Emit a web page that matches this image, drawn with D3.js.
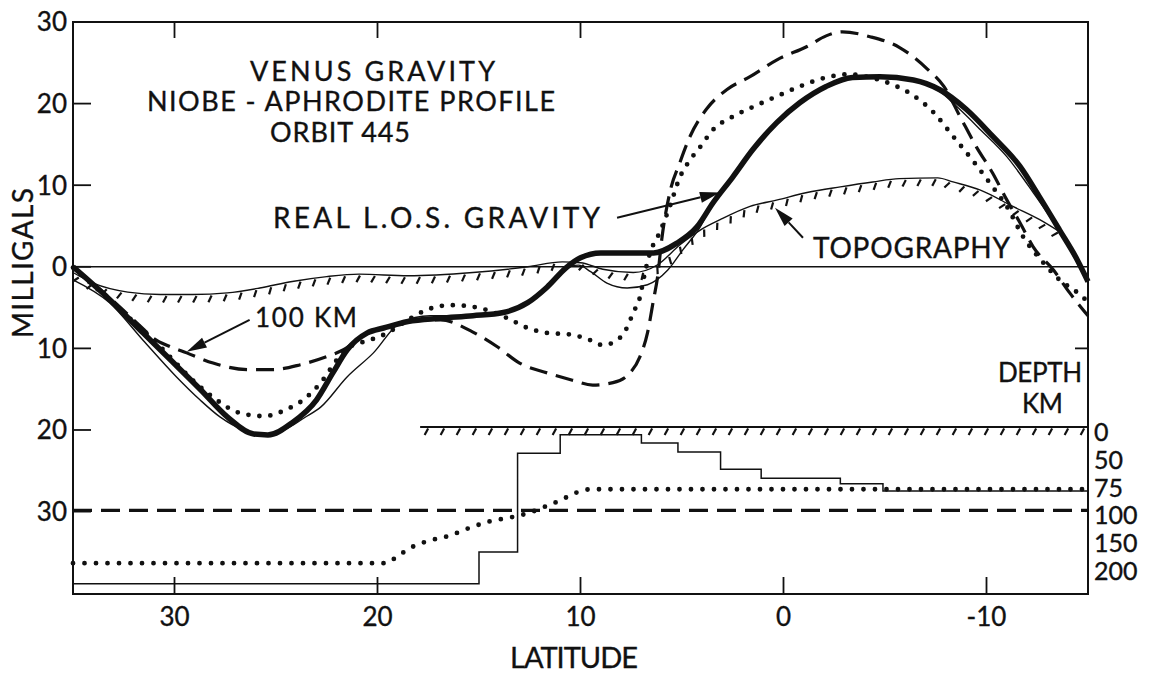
<!DOCTYPE html>
<html>
<head>
<meta charset="utf-8">
<script src="https://cdn.jsdelivr.net/npm/d3@7"></script>
<style>
body { margin: 0; background: #fff; }
text { font-family: Lato, "DejaVu Sans", sans-serif; fill: #111; stroke: #111; stroke-width: 0.35px; }
</style>
</head>
<body>
<div id="viz"></div>
<script>
// tick values
var latTicks = [30, 20, 10, 0, -10];
var mgalTicks = [30, 20, 10, 0, -10, -20, -30];
var rightTicks = [20, 10, -10];
var depthTicks = [0, 50, 75, 100, 150, 200];

// gravity profiles, [latitude, milligals]
var observed = [[35,0],[33.2,-4.0],[31.55,-8.1],[30.2,-11.4],[28.7,-15.1],[27.4,-18.4],[26.1,-20.5],[25.4,-20.6],[24.2,-19.1],[23.0,-16.3],[22.2,-13.0],[21.5,-10.2],[20.5,-8.1],[19.7,-7.5],[18.5,-6.7],[16.9,-6.3],[15.3,-6.0],[13.8,-5.6],[12.6,-4.4],[11.65,-2.5],[10.7,-0.1],[10.0,1.1],[9.0,1.7],[7.7,1.7],[6.4,1.7],[5.25,2.9],[4.26,4.9],[3.47,7.85],[2.5,11.0],[1.5,14.4],[0.32,17.7],[-0.8,20.1],[-2.1,22.1],[-3.4,23.2],[-4.75,23.3],[-6.4,22.9],[-7.7,21.7],[-9.0,19.3],[-10.3,16.0],[-11.65,12.3],[-12.6,8.6],[-13.6,4.5],[-14.46,0.9],[-15,-1.8]];
var model = [[35,-1.6],[33.2,-4.4],[31.55,-9.0],[29.9,-13.5],[28.75,-16.3],[27.76,-18.4],[26.6,-20.0],[25.6,-20.5],[24.6,-20.0],[23.6,-18.5],[22.8,-17.2],[21.5,-13.5],[20.2,-10.55],[18.9,-6.9],[17.4,-6.0],[15.3,-6.0],[13.8,-5.6],[12.6,-4.4],[11.65,-2.5],[10.8,-0.3],[10.1,0.2],[9.5,-0.6],[8.7,-2.0],[7.7,-2.6],[6.7,-2.2],[5.7,-0.4],[4.95,2.1],[4.1,4.9],[3.47,7.85],[2.5,11.0],[1.5,14.4],[0.32,17.7],[-0.8,20.1],[-2.1,22.1],[-3.4,23.2],[-4.75,23.3],[-6.4,22.9],[-7.7,21.5],[-8.55,19.6],[-9.7,16.8],[-11.0,13.5],[-12.3,9.1],[-13.6,4.3],[-15,-2.0]];
var topography = [[35,-0.7],[34.0,-2.0],[32.3,-3.1],[30.7,-3.4],[29.1,-3.4],[27.4,-3.2],[25.8,-2.6],[24.2,-1.8],[22.5,-1.2],[20.9,-0.9],[18.5,-1.1],[15.3,-0.7],[12.6,0],[10.9,0.6],[10.0,0.5],[8.9,-0.3],[7.4,-0.7],[6.2,0.25],[5.1,2.7],[4.1,4.5],[3.1,5.8],[1.65,7.4],[0.3,8.2],[-1.16,9.1],[-2.8,9.8],[-4.4,10.4],[-5.7,10.8],[-7.6,10.9],[-8.35,10.4],[-9.7,9.4],[-11.3,7.4],[-12.6,5.8],[-13.6,4.3]];
var comp100 = [[35,0],[33.2,-3.8],[31.5,-7.7],[31.06,-8.7],[30.2,-9.8],[29.4,-10.55],[28.1,-11.8],[26.4,-12.6],[25.15,-12.6],[23.8,-12.0],[22.5,-11.0],[21.7,-10.2],[20.5,-8.1],[19.7,-7.5],[18.5,-6.7],[16.9,-6.5],[15.3,-8.0],[14.1,-9.8],[13.0,-11.8],[11.65,-13.0],[10.4,-13.9],[9.4,-14.5],[8.4,-14.2],[7.56,-13.0],[7.07,-11.0],[6.7,-8.1],[6.4,-4.0],[6.2,-1.2],[6.0,3.3],[5.6,9.1],[5.1,12.8],[4.6,16.0],[3.8,19.3],[2.8,21.7],[1.65,23.3],[0.3,25.4],[-1.16,27.0],[-2.1,28.3],[-2.9,28.8],[-4.26,28.2],[-5.7,26.9],[-7.1,24.2],[-7.9,22.1],[-8.7,18.4],[-9.5,14.7],[-10.3,11.5],[-11.0,8.2],[-11.65,5.4],[-12.3,2.45],[-13.3,-0.4],[-14.1,-3.2],[-15,-6.0]];
var compVar = [[35,-0.1],[32.3,-6.1],[30.7,-9.8],[29.1,-13.9],[28.1,-16.0],[26.8,-17.9],[25.6,-18.3],[24.5,-17.5],[23.5,-16.0],[22.7,-13.9],[22.0,-11.4],[21.35,-9.8],[20.4,-9.0],[19.5,-8.1],[18.5,-6.5],[17.6,-5.3],[16.4,-4.7],[15.3,-4.9],[14.6,-5.3],[13.6,-6.3],[12.6,-7.5],[11.65,-8.1],[10.5,-8.3],[9.5,-9.0],[8.9,-9.6],[8.2,-9.0],[7.7,-7.4],[7.4,-5.6],[7.07,-3.7],[6.9,-1.6],[6.6,1.5],[6.1,4.2],[5.6,7.4],[5.1,11.0],[4.6,13.1],[4.1,14.7],[3.47,16.8],[2.5,18.4],[1.5,19.6],[0.32,20.9],[-0.8,22.1],[-2.1,23.2],[-3.3,23.6],[-4.1,23.3],[-5.4,22.3],[-6.2,21.3],[-7.4,18.9],[-8.35,16.0],[-9.3,13.1],[-10.3,9.8],[-11.0,7.4],[-11.8,3.7],[-12.8,0.5],[-13.6,-1.6],[-14.5,-3.2],[-15,-4.3]];

// compensation depth models, [latitude, km]
var depthSteps = [[35,232],[15.0,175],[13.1,47],[11.0,14],[7.0,29],[5.2,45],[3.1,63],[1.1,71],[-2.8,76],[-4.9,82.5],[-15,82.5]];
var depthVar = [[35,195],[19.6,195],[19.0,182],[18.3,166],[17.5,155],[16.5,146],[15.5,132],[14.5,120],[13.5,113],[12.5,104],[11.8,97],[11.0,91],[10.2,84],[9.5,81],[-15,81]];
var depth100 = [[35,100],[-15,100]];
var depthTopo = [[17.9,0],[-15,0]];

var W = 1152, H = 675;
var svg = d3.select("#viz").append("svg").attr("width", W).attr("height", H);

var x = d3.scaleLinear().domain([35, -15]).range([73, 1088]);
var y = d3.scaleLinear().domain([-40.1, 30]).range([594, 22]);
var depth = d3.scaleLinear().domain(depthTicks)
    .range(depthTicks.map(function(d, i) { return 427 + i * 27.8; }));

var smooth = d3.line().x(function(d) { return x(d[0]); }).y(function(d) { return y(d[1]); })
    .curve(d3.curveMonotoneX);
var dline = d3.line().x(function(d) { return x(d[0]); }).y(function(d) { return depth(d[1]); });

// frame + zero line
svg.append("rect").attr("x", 73).attr("y", 22).attr("width", 1015).attr("height", 572)
    .style("fill", "none").style("stroke", "#111").style("stroke-width", 2);
svg.append("line").attr("x1", x(35)).attr("x2", x(-15)).attr("y1", y(0)).attr("y2", y(0))
    .style("stroke", "#111").style("stroke-width", 1.5);

// ticks
var ticks = svg.append("g").style("stroke", "#111").style("stroke-width", 1.8);
latTicks.forEach(function(t) {
    ticks.append("line").attr("x1", x(t)).attr("x2", x(t)).attr("y1", 22).attr("y2", 38);
    ticks.append("line").attr("x1", x(t)).attr("x2", x(t)).attr("y1", 594).attr("y2", 577);
});
mgalTicks.forEach(function(t) {
    if (t == 30) return;
    ticks.append("line").attr("x1", 73).attr("x2", 91).attr("y1", y(t)).attr("y2", y(t));
});
rightTicks.forEach(function(t) {
    ticks.append("line").attr("x1", 1088).attr("x2", 1075).attr("y1", y(t)).attr("y2", y(t));
});

// labels
svg.selectAll(".ylab").data(mgalTicks).enter().append("text")
    .attr("x", 67).attr("y", function(d) { return y(d); }).attr("dy", "0.36em")
    .attr("text-anchor", "end").style("font-size", "26px")
    .text(function(d) { return Math.abs(d); });
svg.selectAll(".xlab").data(latTicks).enter().append("text")
    .attr("x", function(d) { return x(d); }).attr("y", 626)
    .attr("text-anchor", "middle").style("font-size", "26px")
    .text(function(d) { return d; });
svg.selectAll(".dlab").data(depthTicks).enter().append("text")
    .attr("x", 1094).attr("y", function(d) { return depth(d) + 5; }).attr("dy", "0.36em")
    .style("font-size", "25px")
    .text(function(d) { return d; });

function label(txt, px, py, size, anchor) {
    return svg.append("text").attr("x", px).attr("y", py).attr("text-anchor", anchor || "start")
        .style("font-size", size + "px").text(txt);
}
label("VENUS GRAVITY", 250, 81, 27).attr("textLength", 245);
label("NIOBE - APHRODITE PROFILE", 147, 111, 27).attr("textLength", 408);
label("ORBIT 445", 270, 142, 27).attr("textLength", 140);
label("REAL L.O.S. GRAVITY", 273, 228, 28).attr("textLength", 327);
label("TOPOGRAPHY", 813, 258, 28).attr("textLength", 197);
label("100 KM", 255, 327, 26).attr("textLength", 102);
label("DEPTH", 998, 382, 26).attr("textLength", 84);
label("KM", 1022, 413, 26).attr("textLength", 41);
label("LATITUDE", 510, 668, 29).attr("textLength", 128);
svg.append("text").attr("transform", "translate(33,263) rotate(-90)")
    .attr("text-anchor", "middle").style("font-size", "28px")
    .attr("textLength", 150).attr("x", 0).attr("y", 0).text("MILLIGALS");

// hatched lines
function hatched(path, spacing) {
    var node = path.node(), L = node.getTotalLength();
    var g = svg.append("g").style("stroke", "#111").style("stroke-width", 2.2);
    for (var s = spacing / 2; s < L; s += spacing) {
        var p = node.getPointAtLength(s), q = node.getPointAtLength(Math.min(L, s + 1));
        var dx = q.x - p.x, dy = q.y - p.y, n = Math.sqrt(dx * dx + dy * dy) || 1;
        dx /= n; dy /= n;
        var nx = -dy, ny = dx;
        g.append("line")
            .attr("x1", p.x + nx * 1.5).attr("y1", p.y + ny * 1.5)
            .attr("x2", p.x + nx * 8 - dx * 3.5).attr("y2", p.y + ny * 8 - dy * 3.5);
    }
}

var topo = svg.append("path").attr("d", smooth(topography))
    .style("fill", "none").style("stroke", "#111").style("stroke-width", 1.4);
hatched(topo, 15);

var dtop = svg.append("path").attr("d", dline(depthTopo))
    .style("fill", "none").style("stroke", "#111").style("stroke-width", 2.2);
hatched(dtop, 16);

// lower panel
svg.append("path").attr("d", d3.line().x(function(d) { return x(d[0]); })
        .y(function(d) { return depth(d[1]); }).curve(d3.curveStepAfter)(depthSteps))
    .style("fill", "none").style("stroke", "#111").style("stroke-width", 1.5);
svg.append("path").attr("d", dline(depth100))
    .style("fill", "none").style("stroke", "#111").style("stroke-width", 3.2)
    .style("stroke-dasharray", "19,9");
svg.append("path").attr("d", dline.curve(d3.curveMonotoneX)(depthVar))
    .style("fill", "none").style("stroke", "#111").style("stroke-width", 4.8)
    .style("stroke-linecap", "round").style("stroke-dasharray", "0,11.5");

// upper curves
svg.append("path").attr("d", smooth(comp100))
    .style("fill", "none").style("stroke", "#111").style("stroke-width", 3.2)
    .style("stroke-dasharray", "18,9");
svg.append("path").attr("d", smooth(compVar))
    .style("fill", "none").style("stroke", "#111").style("stroke-width", 4.8)
    .style("stroke-linecap", "round").style("stroke-dasharray", "0,11");
svg.append("path").attr("d", smooth(model))
    .style("fill", "none").style("stroke", "#111").style("stroke-width", 1.4);
svg.append("path").attr("d", smooth(observed))
    .style("fill", "none").style("stroke", "#111").style("stroke-width", 5.5);

// arrows
function arrow(from, to) {
    var x0 = x(from[0]), y0 = y(from[1]), x1 = x(to[0]), y1 = y(to[1]);
    var dx = x1 - x0, dy = y1 - y0, n = Math.sqrt(dx * dx + dy * dy);
    dx /= n; dy /= n;
    var bx = x1 - dx * 20, by = y1 - dy * 20;
    svg.append("line").attr("x1", x0).attr("y1", y0).attr("x2", bx).attr("y2", by)
        .style("stroke", "#111").style("stroke-width", 2);
    svg.append("path")
        .attr("d", "M" + x1 + "," + y1 + "L" + (bx - dy * 5.5) + "," + (by + dx * 5.5) +
            "L" + (bx + dy * 5.5) + "," + (by - dx * 5.5) + "Z")
        .style("fill", "#111");
}
arrow([8.2, 6.0], [3.13, 9.1]);
arrow([-0.96, 3.56], [0.42, 7.24]);
arrow([26.3, -6.5], [29.4, -10.4]);
</script>
</body>
</html>
